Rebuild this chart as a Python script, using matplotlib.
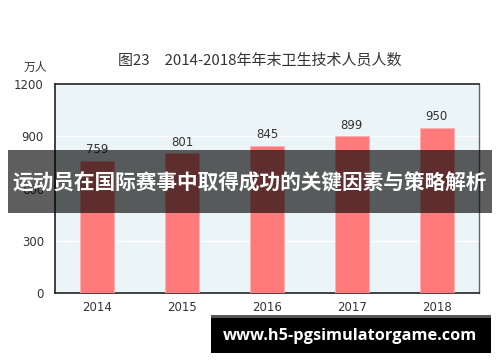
import matplotlib
matplotlib.use("Agg")
import matplotlib.pyplot as plt
from matplotlib.patches import Rectangle

plt.rcParams['font.family'] = ['Noto Sans CJK SC', 'DejaVu Sans']

years = ["2014", "2015", "2016", "2017", "2018"]
values = [759, 801, 845, 899, 950]
yticks = [0, 300, 600, 900, 1200]
title = "图23　2014-2018年年末卫生技术人员人数"
unit = "万人"
overlay_title = "运动员在国际赛事中取得成功的关键因素与策略解析"
watermark = "www.h5-pgsimulatorgame.com"

W, H = 500, 362
fig = plt.figure(figsize=(5, 3.62), dpi=100)
ax = fig.add_axes([55 / W, 1 - 293 / H, 424 / W, 209 / H])
ax.set_facecolor("#EBF4F7")
x = list(range(len(years)))
ax.bar(x, values, width=0.4, color="#FF7B7B", edgecolor="#FFB0B0", linewidth=0.6, zorder=3)
for xi, v in zip(x, values):
    ax.text(xi, v + 25, str(v), ha="center", va="bottom", fontsize=8.5, color="#333333",
            family="DejaVu Sans")
ax.set_xlim(-0.5, len(years) - 0.5)
ax.set_ylim(0, 1200)
ax.set_yticks(yticks)
ax.set_yticklabels([str(t) for t in yticks], fontsize=8.5, color="#333333", family="DejaVu Sans")
ax.set_xticks(x)
ax.set_xticklabels(years, fontsize=8.5, color="#333333", family="DejaVu Sans")
ax.tick_params(axis="y", length=0, pad=8)
ax.tick_params(axis="x", length=0, pad=6)
ax.yaxis.grid(True, color="white", linewidth=1, zorder=0)
ax.set_axisbelow(True)
for s in ["left", "bottom", "top"]:
    ax.spines[s].set_color("#222222")
    ax.spines[s].set_linewidth(1.2)
ax.spines["right"].set_color("#666666")
ax.spines["right"].set_linewidth(1.0)

fig.text(260 / W, 1 - 61 / H, title, ha="center", va="center", fontsize=10.8, color="#333333")
fig.text(35 / W, 1 - 67 / H, unit, ha="center", va="center", fontsize=8.5, color="#333333")

# overlay band
fig.patches.append(Rectangle((8 / W, 1 - 213 / H), 484 / W, 63 / H, transform=fig.transFigure,
                             facecolor="black", alpha=0.63, edgecolor="none", zorder=5))
fig.text(250 / W, 1 - 183 / H, overlay_title, ha="center", va="center", fontsize=14.9,
         fontweight="bold", color="white", zorder=6)

# watermark box
fig.patches.append(Rectangle((211 / W, 1 - 353 / H), 280 / W, 38 / H, transform=fig.transFigure,
                             facecolor="black", edgecolor="none", zorder=5))
fig.patches.append(Rectangle((211 / W, 1 - 318 / H), 280 / W, 3 / H, transform=fig.transFigure,
                             facecolor="#555555", edgecolor="none", zorder=6))
fig.text(350 / W, 1 - 336 / H, watermark, ha="center", va="center", fontsize=11.8,
         fontweight="bold", color="white", zorder=7, family=["Open Sans", "DejaVu Sans"])

fig.savefig("out.png", dpi=100)
